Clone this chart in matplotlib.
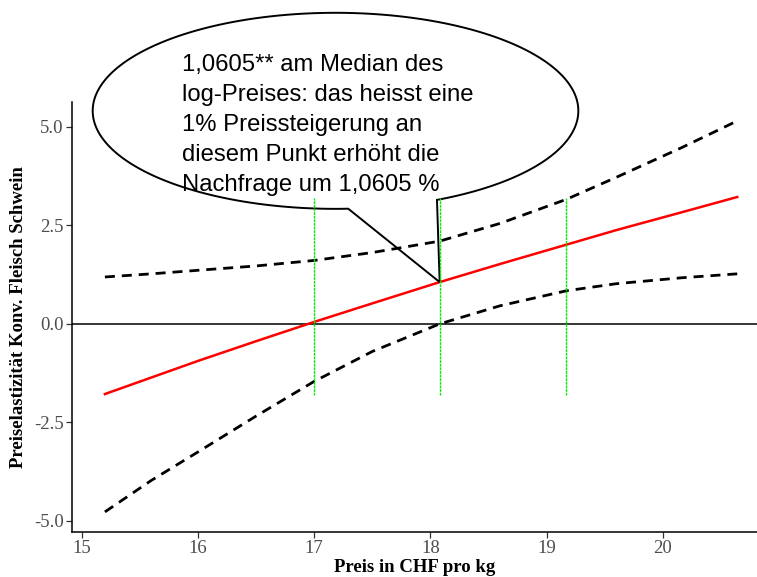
import numpy as np
import matplotlib
matplotlib.use("Agg")
import matplotlib.pyplot as plt
from matplotlib.patches import Polygon

# ---- data ----
price = [15.2, 15.6, 16.0, 16.5, 17.0, 17.5, 18.08, 18.6, 19.17, 19.6, 20.16, 20.64]
elasticity = [-1.78, -1.36, -0.94, -0.44, 0.05, 0.52, 1.06, 1.52, 2.01, 2.38, 2.83, 3.22]
ci_upper = [1.19, 1.27, 1.36, 1.47, 1.61, 1.81, 2.10, 2.55, 3.16, 3.72, 4.47, 5.15]
ci_lower = [-4.77, -3.97, -3.25, -2.34, -1.46, -0.70, 0.0, 0.46, 0.84, 1.02, 1.17, 1.27]
quartile_prices = [17.0, 18.08, 19.17]
quartile_range = [-1.8, 3.2]
median_price = 18.08
median_elasticity = 1.0605
x_ticks = [15, 16, 17, 18, 19, 20]
y_ticks = [-5.0, -2.5, 0.0, 2.5, 5.0]
y_ticklabels = ["-5.0", "-2.5", "0.0", "2.5", "5.0"]
callout_text = ("1,0605** am Median des\nlog-Preises: das heisst eine\n"
                "1% Preissteigerung an\ndiesem Punkt erhöht die\nNachfrage um 1,0605 %")
x_label = "Preis in CHF pro kg"
y_label = "Preiselastizität Konv. Fleisch Schwein"

W, H = 757, 577
fig = plt.figure(figsize=(W / 100, H / 100), dpi=100)
ax = fig.add_axes([72 / W, 45 / H, 685 / W, 430 / H])
ax.set_xlim(14.917, 20.81)
ax.set_ylim(-5.28, 5.63)

serif = ["Liberation Serif", "DejaVu Serif"]

ax.axhline(0, color="black", lw=1.1, zorder=1)
ax.plot(price, ci_upper, color="black", lw=2.0, dashes=(3.6, 2.5), zorder=2)
ax.plot(price, ci_lower, color="black", lw=2.0, dashes=(3.6, 2.5), zorder=2)
ax.plot(price, elasticity, color="#ff0000", lw=1.8, zorder=3)

# callout bubble (ellipse with a wedge pointing to the median)
cx, cy, a, b = 17.184, 5.406, 2.089, 2.487
th = np.radians(np.linspace(-65.3, 360 - 87.0, 400))
pts = np.column_stack([cx + a * np.cos(th), cy + b * np.sin(th)])
pts = np.vstack([pts, [median_price, median_elasticity]])
bubble = Polygon(pts, closed=True, facecolor="none", edgecolor="black",
                 lw=1.4, clip_on=False, zorder=4)
ax.add_patch(bubble)
ax.text(15.865, 6.85, callout_text, fontsize=17.2, family=["Liberation Sans", "DejaVu Sans"],
        ha="left", va="top", linespacing=1.475, zorder=5, clip_on=False)

for qp in quartile_prices:
    ax.plot([qp, qp], quartile_range, color="#00ee00", lw=1.0,
            linestyle=(0, (2, 0.6)), zorder=6)

for s in ["top", "right"]:
    ax.spines[s].set_visible(False)
for s in ["left", "bottom"]:
    ax.spines[s].set_color("black")
    ax.spines[s].set_linewidth(1.1)

ax.set_xticks(x_ticks)
ax.set_xticklabels([str(t) for t in x_ticks])
ax.set_yticks(y_ticks)
ax.set_yticklabels(y_ticklabels)
ax.tick_params(axis="both", colors="#333333", labelcolor="#4d4d4d", length=4,
               width=0.9, labelsize=13.5, pad=2)
for lab in ax.get_xticklabels() + ax.get_yticklabels():
    lab.set_family(serif)

ax.set_xlabel(x_label, fontsize=13.5, fontweight="bold", family=serif, labelpad=1)
ax.set_ylabel(y_label, fontsize=13.5, fontweight="bold", family=serif, labelpad=5)

fig.savefig("out.png", dpi=100)
